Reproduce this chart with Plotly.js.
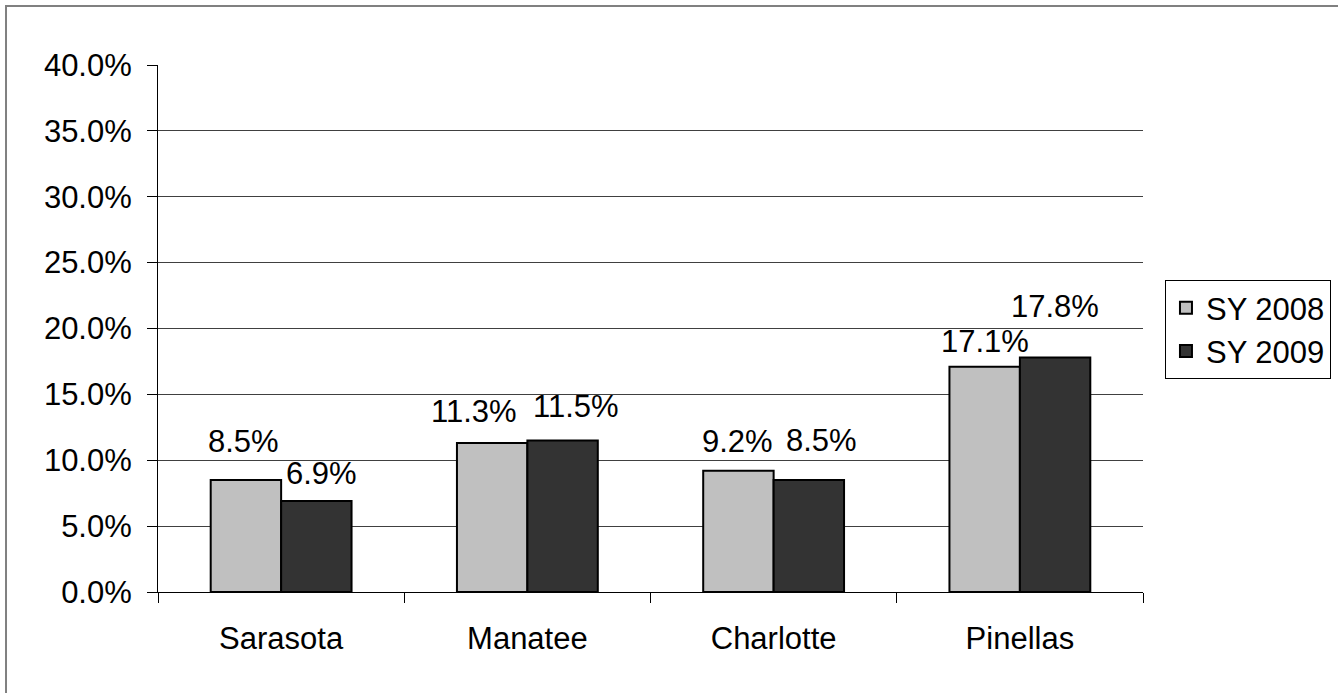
<!DOCTYPE html>
<html>
<head>
<meta charset="utf-8">
<script src="https://cdn.plot.ly/plotly-3.0.1.min.js"></script>
<style>
html,body{margin:0;padding:0;background:#fff;}
#chart{width:1338px;height:693px;}
</style>
</head>
<body>
<div id="chart"></div>
<script>
const categories = ["Sarasota", "Manatee", "Charlotte", "Pinellas"];
const seriesNames = ["SY 2008", "SY 2009"];
const sy2008 = [8.5, 11.3, 9.2, 17.1];
const sy2009 = [6.9, 11.5, 8.5, 17.8];
const yTickVals = [0, 5, 10, 15, 20, 25, 30, 35, 40];

// label nudges in pixels [dx, dy] (hand-placed labels in the original)
const labelNudge2008 = [[-2, 19], [-18, 12], [-1, 10], [0, 6]];
const labelNudge2009 = [[5, 8], [13, 14], [13, 20], [0, 31]];

const colors = ["#C0C0C0", "#333333"];
const BARGAP = 0.428;
const FONT = "Liberation Sans, Arial, sans-serif";

const series = [sy2008, sy2009];
const nudges = [labelNudge2008, labelNudge2009];
const traces = series.map((vals, s) => ({
  type: "bar",
  name: seriesNames[s],
  x: categories,
  y: vals,
  marker: {color: colors[s], line: {color: "#000", width: 2}},
  hoverinfo: "skip"
}));

// data labels, placed through the axes above each bar
const annotations = [];
const half = (1 - BARGAP) / 2;
series.forEach((vals, s) => {
  vals.forEach((v, i) => {
    annotations.push({
      xref: "x", yref: "y",
      x: i + (s - 0.5) * half,
      y: v,
      text: v.toFixed(1) + "%",
      showarrow: false,
      xanchor: "center", yanchor: "bottom",
      xshift: nudges[s][i][0],
      yshift: nudges[s][i][1],
      font: {family: FONT, size: 31, color: "#000"}
    });
  });
});

const layout = {
  width: 1338, height: 693,
  margin: {l: 158, r: 195, t: 65, b: 101, autoexpand: false},
  paper_bgcolor: "#fff", plot_bgcolor: "#fff",
  font: {family: FONT, size: 31, color: "#000"},
  barmode: "group",
  bargap: BARGAP,
  bargroupgap: 0,
  showlegend: true,
  legend: {
    x: 1.0223, y: 0.592, xanchor: "left", yanchor: "top",
    bordercolor: "#000", borderwidth: 1,
    font: {family: FONT, size: 31, color: "#000"},
    bgcolor: "#fff",
    itemwidth: 30,
    tracegroupgap: 0
  },
  xaxis: {
    type: "category",
    showline: true, linecolor: "#000", linewidth: 1,
    ticks: "outside", ticklen: 10, tickcolor: "#000", tickwidth: 1,
    tickson: "boundaries",
    showgrid: false, zeroline: false,
    tickfont: {family: FONT, size: 31, color: "#000"},
    ticklabelstandoff: 19
  },
  yaxis: {
    range: [0, 40],
    tickvals: yTickVals,
    ticktext: yTickVals.map(v => v.toFixed(1) + "%"),
    showline: true, linecolor: "#000", linewidth: 1,
    ticks: "outside", ticklen: 10, tickcolor: "#000", tickwidth: 1,
    showgrid: true, gridcolor: "#404040", gridwidth: 1,
    zeroline: false,
    tickfont: {family: FONT, size: 31, color: "#000"},
    ticklabelstandoff: 9
  },
  annotations: annotations,
  shapes: [{
    type: "rect", xref: "paper", yref: "paper",
    x0: -0.1543, x1: 1.25, y0: -0.25, y1: 1.112,
    line: {color: "#808080", width: 2},
    fillcolor: "rgba(0,0,0,0)",
    layer: "above"
  }]
};

Plotly.newPlot("chart", traces, layout, {staticPlot: true, displayModeBar: false});
</script>
</body>
</html>
